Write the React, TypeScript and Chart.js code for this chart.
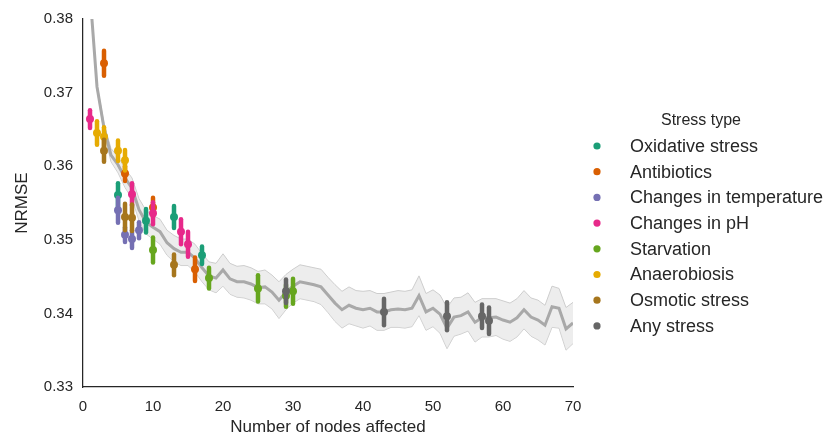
import React, { useEffect, useRef } from "react";
import { Chart, registerables } from "chart.js";

Chart.register(...registerables);

const FONT = "'Liberation Sans', Arial, sans-serif";
const TEXT = "#262626";

// Number of affected nodes (x positions of the mean curve)
const nodeCounts = [
  1, 2, 3, 4, 5, 6, 7, 8, 9, 10, 11, 12, 13, 14, 15, 16, 17, 18, 19, 20,
  21, 22, 23, 24, 25, 26, 27, 28, 29, 30, 31, 32, 33, 34, 35, 36, 37, 38, 39, 40,
  41, 42, 43, 44, 45, 46, 47, 48, 49, 50, 51, 52, 53, 54, 55, 56, 57, 58, 59, 60,
  61, 62, 63, 64, 65, 66, 67, 68, 69, 70,
];

// Mean NRMSE over random perturbations
const meanNrmse = [
  0.3835, 0.3708, 0.3652, 0.3615, 0.3602, 0.3584, 0.357, 0.3541, 0.3524, 0.3517,
  0.3511, 0.3496, 0.3488, 0.3483, 0.3483, 0.3475, 0.3462, 0.3451, 0.3448, 0.3459,
  0.3447, 0.3443, 0.3443, 0.344, 0.3435, 0.3436, 0.3429, 0.3418, 0.3429, 0.3437,
  0.3443, 0.3441, 0.3439, 0.3436, 0.3425, 0.3414, 0.3405, 0.3411, 0.3407, 0.3405,
  0.3407, 0.3402, 0.3402, 0.3405, 0.3406, 0.3405, 0.3407, 0.3424, 0.3402, 0.3407,
  0.3399, 0.338, 0.3395, 0.3397, 0.3402, 0.3388, 0.3394, 0.3394, 0.3395, 0.3391,
  0.3388, 0.3394, 0.3405, 0.3395, 0.3391, 0.3384, 0.3409, 0.3407, 0.3379, 0.3387,
];

// Half-width of the confidence band around the mean
const ciHalfWidth = [
  0.0003, 0.0003, 0.0006, 0.0009, 0.0011, 0.0013, 0.0014, 0.0015, 0.0016, 0.0016,
  0.0017, 0.0017, 0.0018, 0.0018, 0.0018, 0.0019, 0.0019, 0.0019, 0.002, 0.0022,
  0.0021, 0.0021, 0.0022, 0.0022, 0.0022, 0.0023, 0.0023, 0.0025, 0.0024, 0.0023,
  0.0023, 0.0023, 0.0023, 0.0024, 0.0024, 0.0025, 0.0025, 0.0025, 0.0024, 0.0025,
  0.0024, 0.0025, 0.0025, 0.0024, 0.0025, 0.0025, 0.0025, 0.0027, 0.0025, 0.0025,
  0.0026, 0.0028, 0.0026, 0.0025, 0.0026, 0.0027, 0.0026, 0.0026, 0.0025, 0.0026,
  0.0026, 0.0026, 0.0026, 0.0026, 0.0027, 0.0027, 0.0028, 0.0027, 0.0029, 0.0028,
];

// Stress types
const stressTypes = [
  "Oxidative stress",
  "Antibiotics",
  "Changes in temperature",
  "Changes in pH",
  "Starvation",
  "Anaerobiosis",
  "Osmotic stress",
  "Any stress",
];
const stressColors = [
  "#1b9e77", "#d95f02", "#7570b3", "#e7298a",
  "#66a61e", "#e6ab02", "#a6761d", "#666666",
];

// Per stress type: nodes affected, NRMSE, error half-length
const oxidativeX = [5, 9, 13, 17];
const oxidativeY = [0.3561, 0.3526, 0.3531, 0.3479];
const oxidativeErr = [0.0016, 0.0016, 0.0015, 0.0012];

const antibioticsX = [3, 6, 10, 16];
const antibioticsY = [0.374, 0.359, 0.3544, 0.346];
const antibioticsErr = [0.0017, 0.001, 0.0013, 0.0016];

const temperatureX = [5, 6, 7, 8];
const temperatureY = [0.354, 0.3507, 0.3501, 0.3513];
const temperatureErr = [0.0017, 0.001, 0.0012, 0.0011];

const phX = [1, 7, 10, 14, 15];
const phY = [0.3664, 0.3562, 0.3536, 0.3511, 0.3494];
const phErr = [0.0012, 0.0015, 0.0015, 0.0017, 0.0017];

const starvationX = [10, 18, 25, 29, 30];
const starvationY = [0.3486, 0.3448, 0.3434, 0.3424, 0.343];
const starvationErr = [0.0017, 0.0014, 0.0018, 0.0015, 0.0017];

const anaerobiosisX = [2, 3, 5, 6];
const anaerobiosisY = [0.3645, 0.364, 0.3621, 0.3608];
const anaerobiosisErr = [0.0016, 0.0013, 0.0014, 0.0014];

const osmoticX = [3, 6, 7, 13];
const osmoticY = [0.3621, 0.3531, 0.353, 0.3466];
const osmoticErr = [0.0015, 0.0018, 0.0018, 0.0014];

const anyX = [29, 43, 52, 57, 58];
const anyY = [0.343, 0.3402, 0.3396, 0.3396, 0.339];
const anyErr = [0.0016, 0.0018, 0.0019, 0.0016, 0.0018];

const seriesX = [oxidativeX, antibioticsX, temperatureX, phX, starvationX, anaerobiosisX, osmoticX, anyX];
const seriesY = [oxidativeY, antibioticsY, temperatureY, phY, starvationY, anaerobiosisY, osmoticY, anyY];
const seriesErr = [oxidativeErr, antibioticsErr, temperatureErr, phErr, starvationErr, anaerobiosisErr, osmoticErr, anyErr];

const yTicks = [0.33, 0.34, 0.35, 0.36, 0.37, 0.38];

// Vertical error bars, drawn just before each stress dataset's markers
const errorBarPlugin = {
  id: "errorBars",
  beforeDatasetDraw(chart: any, args: any) {
    const ds = chart.data.datasets[args.index];
    if (!ds.errorBars) return;
    const { ctx, chartArea } = chart;
    const xs = chart.scales.x;
    const ys = chart.scales.y;
    ctx.save();
    ctx.beginPath();
    ctx.rect(chartArea.left, chartArea.top, chartArea.right - chartArea.left, chartArea.bottom - chartArea.top);
    ctx.clip();
    ctx.strokeStyle = ds.backgroundColor;
    ctx.lineWidth = 4.5;
    ctx.lineCap = "round";
    ds.data.forEach((p: any, i: number) => {
      const e = ds.errorBars[i];
      const px = xs.getPixelForValue(p.x);
      ctx.beginPath();
      ctx.moveTo(px, ys.getPixelForValue(p.y - e));
      ctx.lineTo(px, ys.getPixelForValue(p.y + e));
      ctx.stroke();
    });
    ctx.restore();
  },
};

// Legend on the right: title, colored dot, label
const sideLegendPlugin = {
  id: "sideLegend",
  afterDraw(chart: any) {
    const { ctx } = chart;
    ctx.save();
    ctx.fillStyle = TEXT;
    ctx.textBaseline = "middle";
    ctx.textAlign = "center";
    ctx.font = `16px ${FONT}`;
    ctx.fillText("Stress type", 701, 121);
    ctx.textAlign = "left";
    ctx.font = `18px ${FONT}`;
    stressTypes.forEach((name, i) => {
      const y = 146 + i * 25.7;
      ctx.beginPath();
      ctx.fillStyle = stressColors[i];
      ctx.arc(597, y, 3.6, 0, Math.PI * 2);
      ctx.fill();
      ctx.fillStyle = TEXT;
      ctx.fillText(name, 630, y + 1);
    });
    ctx.restore();
  },
};

export default function App() {
  const canvasRef = useRef<HTMLCanvasElement>(null);

  useEffect(() => {
    document.body.style.margin = "0";
    const canvas = canvasRef.current;
    if (!canvas) return;

    const lower = nodeCounts.map((x, i) => ({ x, y: meanNrmse[i] - ciHalfWidth[i] }));
    const upper = nodeCounts.map((x, i) => ({ x, y: meanNrmse[i] + ciHalfWidth[i] }));
    const mean = nodeCounts.map((x, i) => ({ x, y: meanNrmse[i] }));

    const stressDatasets = stressTypes.map((name, s) => ({
      type: "scatter" as const,
      label: name,
      data: seriesX[s].map((x, i) => ({ x, y: seriesY[s][i] })),
      errorBars: seriesErr[s],
      backgroundColor: stressColors[s],
      borderColor: stressColors[s],
      pointRadius: 4,
      pointBorderWidth: 0,
      showLine: false,
      order: 80 - s,
    }));

    const chart = new Chart(canvas, {
      type: "line",
      data: {
        datasets: [
          {
            label: "ci-low",
            data: lower,
            borderColor: "#cdcdcd",
            borderWidth: 1,
            pointRadius: 0,
            fill: false,
            tension: 0,
            order: 100,
          },
          {
            label: "ci-high",
            data: upper,
            borderColor: "#cdcdcd",
            borderWidth: 1,
            backgroundColor: "rgba(222,222,222,0.55)",
            pointRadius: 0,
            fill: "-1",
            tension: 0,
            order: 99,
          },
          {
            label: "mean",
            data: mean,
            borderColor: "#a9a9a9",
            borderWidth: 3,
            pointRadius: 0,
            fill: false,
            tension: 0,
            order: 90,
          },
          ...stressDatasets,
        ] as any,
      },
      options: {
        responsive: false,
        animation: false,
        events: [],
        layout: { padding: { top: 19, right: 251, bottom: 0, left: 0 } },
        plugins: {
          legend: { display: false },
          tooltip: { enabled: false },
        },
        scales: {
          x: {
            type: "linear",
            min: 0,
            max: 70,
            grid: { display: false, drawTicks: false },
            border: { display: true, color: TEXT, width: 1.25 },
            ticks: { stepSize: 10, padding: 11, color: TEXT, font: { family: FONT, size: 15 } },
            title: {
              display: true,
              text: "Number of nodes affected",
              color: TEXT,
              font: { family: FONT, size: 17 },
              padding: { top: 0, bottom: 1 },
            },
            afterFit(scale: any) {
              scale.height = 52;
            },
          },
          y: {
            type: "linear",
            min: 0.33,
            max: 0.38,
            grid: { display: false, drawTicks: false },
            border: { display: true, color: TEXT, width: 1.25 },
            afterBuildTicks(scale: any) {
              scale.ticks = yTicks.map((v) => ({ value: v }));
            },
            ticks: {
              padding: 10,
              color: TEXT,
              font: { family: FONT, size: 15 },
              callback: (v: any) => Number(v).toFixed(2),
            },
            title: {
              display: true,
              text: "NRMSE",
              color: TEXT,
              font: { family: FONT, size: 17 },
              padding: { top: 12, bottom: 0 },
            },
            afterFit(scale: any) {
              scale.width = 83;
            },
          },
        },
      },
      plugins: [errorBarPlugin, sideLegendPlugin],
    });

    return () => chart.destroy();
  }, []);

  return (
    <div style={{ width: 824, height: 439 }}>
      <canvas ref={canvasRef} width={824} height={439} style={{ display: "block" }} />
    </div>
  );
}
